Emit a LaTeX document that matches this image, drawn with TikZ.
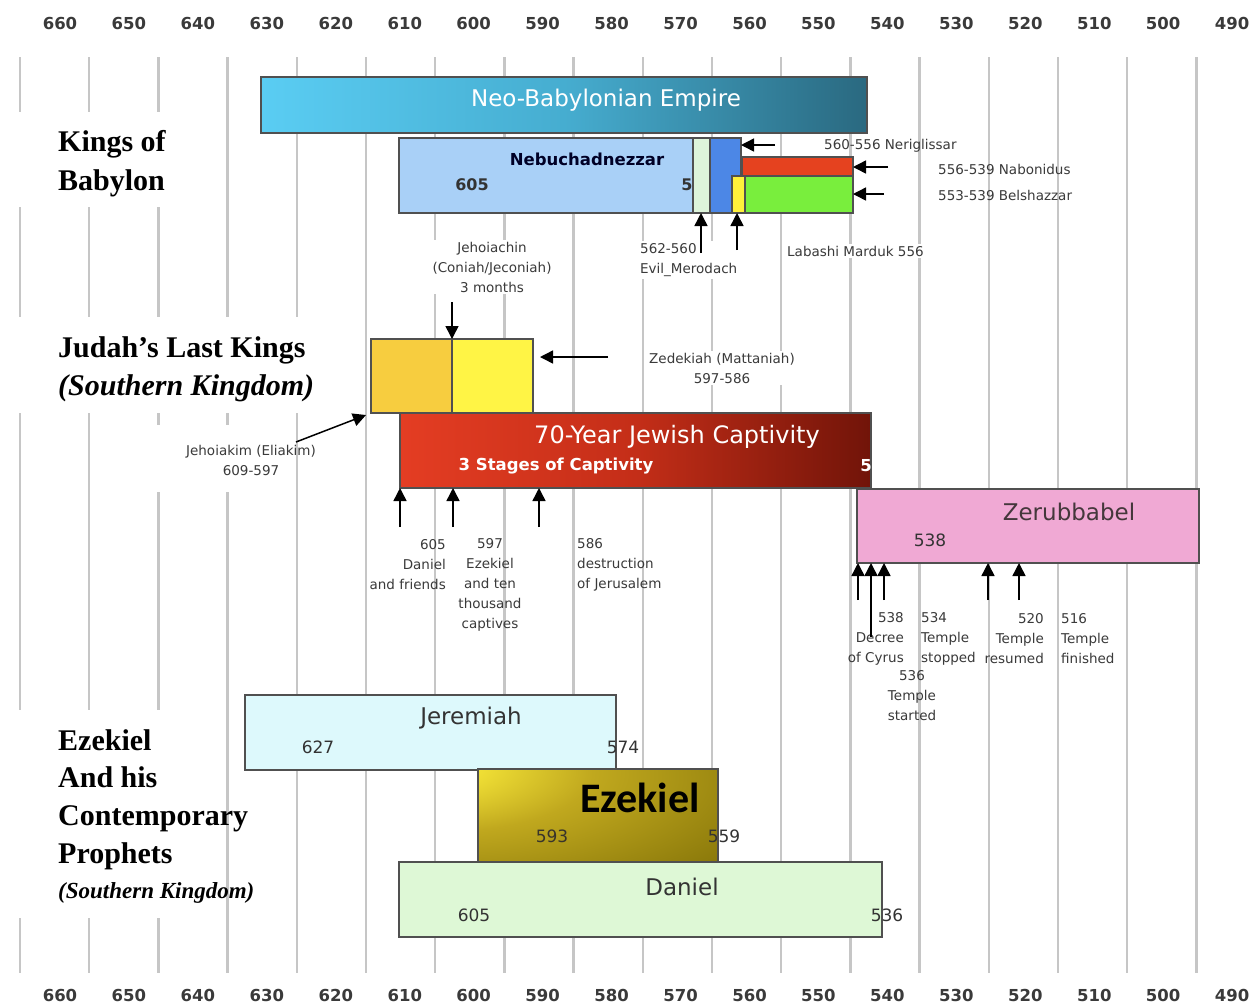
\documentclass[tikz,border=0pt]{standalone}
\usepackage{fontspec}
\setmainfont{DejaVu Sans}
\newfontfamily\rowserif{Liberation Serif}
\newfontfamily\calibri{Carlito}
\usetikzlibrary{arrows.meta}
\definecolor{gridgray}{HTML}{C6C6C6}
\definecolor{edge}{HTML}{505050}
\definecolor{notegray}{HTML}{3A3A3A}
\definecolor{neolight}{HTML}{5ACDF3}
\definecolor{neomid}{HTML}{46ADD0}
\definecolor{neodark}{HTML}{2A6980}
\definecolor{nebblue}{HTML}{A9D0F7}
\definecolor{evilgreen}{HTML}{DDF4DA}
\definecolor{neriblue}{HTML}{4C87E6}
\definecolor{nabored}{HTML}{E5421F}
\definecolor{labayellow}{HTML}{FFF03A}
\definecolor{belsgreen}{HTML}{79EE3D}
\definecolor{jhkorange}{HTML}{F7CD3F}
\definecolor{zedyellow}{HTML}{FFF445}
\definecolor{captred}{HTML}{E43D23}
\definecolor{captmid}{HTML}{C42E18}
\definecolor{captdark}{HTML}{711409}
\definecolor{zerpink}{HTML}{F0A9D4}
\definecolor{jercyan}{HTML}{DDF9FC}
\definecolor{ezlight}{HTML}{FFF03C}
\definecolor{ezmid}{HTML}{C0A81E}
\definecolor{ezdark}{HTML}{847308}
\definecolor{dangreen}{HTML}{DEF8D6}
\pgfdeclareradialshading{ezglow}{\pgfpoint{-42bp}{30bp}}{color(0bp)=(ezlight); color(8bp)=(ezlight); color(32bp)=(ezmid); color(68bp)=(ezdark); color(150bp)=(ezdark)}
\tikzset{gridline/.style={gridgray, line width=2.4pt},
         yearlab/.style={font=\fontsize{16.5}{18}\selectfont\bfseries, text=notegray},
         rowlab/.style={font=\fontsize{30}{36}\selectfont\rowserif\bfseries, anchor=base west, inner sep=0pt},
         rowlabit/.style={rowlab, font=\fontsize{30}{36}\selectfont\rowserif\bfseries\itshape},
         bar/.style={draw=edge, line width=1.2pt, anchor=north west, inner sep=0pt, outer sep=0pt},
         barname/.style={font=\fontsize{23}{26}\selectfont, text=black!80},
         baryear/.style={font=\fontsize{17}{20}\selectfont, text=black!80},
         note/.style={font=\fontsize{13.5}{20}\selectfont, text=notegray, inner sep=2pt},
         pointer/.style={-{Triangle[length=13pt,width=13pt]}, line width=1.5pt}}

\begin{document}
\begin{tikzpicture}[x=1pt, y=-1pt]
    \fill[white] (0,0) rectangle (1260,1005);
    \useasboundingbox (0,0) rectangle (1260,1005);

    \foreach \i in {0,...,17}
      \draw[gridline] (20+69.2*\i,57) -- (20+69.2*\i,973);
    \fill[white] (8,112) rectangle (178,207);
    \fill[white] (8,317) rectangle (322,413);
    \fill[white] (8,710) rectangle (178,918);
    \fill[white] (145,425) rectangle (240,492);

    \foreach \yr [count=\i from 0] in {660,650,...,490} {
      \node[yearlab] (top-\yr) at (60+68.95*\i,23) {\yr};
      \node[yearlab] (bot-\yr) at (60+68.95*\i,995) {\yr};
    }

    \node[rowlab] (kings-1) at (58,151) {Kings of};
    \node[rowlab] (kings-2) at (58,190) {Babylon};
    \node[rowlab] (judah-1) at (58,357) {Judah’s Last Kings};
    \node[rowlabit] (judah-2) at (58,395) {(Southern Kingdom)};
    \node[rowlab] (proph-1) at (58,750) {Ezekiel};
    \node[rowlab] (proph-2) at (58,787) {And his};
    \node[rowlab] (proph-3) at (58,825) {Contemporary};
    \node[rowlab] (proph-4) at (58,863) {Prophets};
    \node[rowlabit, font=\fontsize{23}{26}\selectfont\rowserif\bfseries\itshape] (proph-5) at (58,898) {(Southern Kingdom)};

    \node[note, fill=white, align=center] (jhn-lab) at (492,267) {Jehoiachin\\(Coniah/Jeconiah)\\3 months};
    \node[note, fill=white, align=left, anchor=west] (evil-lab) at (638,260) {562-560\\Evil\_Merodach};
    \node[note, fill=white, anchor=west] (laba-lab) at (785,251) {Labashi Marduk 556};
    \node[note, anchor=west] (neri-lab) at (822,146) {560-556 Neriglissar};
    \node[note, anchor=west] (nabo-lab) at (936,169) {556-539 Nabonidus};
    \node[note, anchor=west] (bels-lab) at (936,195) {553-539 Belshazzar};
    \node[note, fill=white, align=center] (zed-lab) at (722,368) {Zedekiah (Mattaniah)\\597-586};
    \node[note, align=center] (jhk-lab) at (251,460) {Jehoiakim (Eliakim)\\609-597};
    \node[note, align=right, anchor=east] (capt1-lab) at (448,565) {605\\Daniel\\and friends};
    \node[note, align=center] (capt2-lab) at (490,585) {597\\Ezekiel\\and ten\\thousand\\captives};
    \node[note, align=left, anchor=west] (capt3-lab) at (575,565) {586\\destruction\\of Jerusalem};
    \node[note, align=right, anchor=east] (cyrus-lab) at (906,639) {538\\Decree\\of Cyrus};
    \node[note, align=center] (start-lab) at (912,696) {536\\Temple\\started};
    \node[note, align=left, anchor=west] (stop-lab) at (919,639) {534\\Temple\\stopped};
    \node[note, align=right, anchor=east] (resume-lab) at (1046,639) {520\\Temple\\resumed};
    \node[note, align=left, anchor=west] (finish-lab) at (1059,639) {516\\Temple\\finished};

    \node[bar, left color=neolight, right color=neodark, middle color=neomid, minimum width=606, minimum height=56] (neo) at (261,77) {};
    \node[bar, fill=nebblue, minimum width=294, minimum height=75] (neb) at (399,138) {};
    \node[bar, fill=evilgreen, minimum width=17, minimum height=75] (evil) at (693,138) {};
    \node[bar, fill=neriblue, minimum width=31, minimum height=75] (neri) at (710,138) {};
    \node[bar, fill=nabored, minimum width=111, minimum height=19] (nabo) at (742,157) {};
    \node[bar, fill=labayellow, minimum width=13, minimum height=37] (laba) at (732,176) {};
    \node[bar, fill=belsgreen, minimum width=108, minimum height=37] (bels) at (745,176) {};
    \node[bar, fill=jhkorange, minimum width=81, minimum height=74] (jhk) at (371,339) {};
    \node[bar, fill=zedyellow, minimum width=81, minimum height=74] (zed) at (452,339) {};
    \node[bar, left color=captred, right color=captdark, middle color=captmid, minimum width=471, minimum height=75] (capt) at (400,413) {};
    \node[bar, fill=zerpink, minimum width=342, minimum height=74] (zer) at (857,489) {};
    \node[bar, fill=jercyan, minimum width=371, minimum height=75] (jer) at (245,695) {};
    \node[bar, shade, shading=ezglow, minimum width=240, minimum height=94] (ezk) at (478,769) {};
    \node[bar, fill=dangreen, minimum width=483, minimum height=75] (dan) at (399,862) {};

    \node[barname, text=white] (neo-name) at (606,100) {Neo-Babylonian Empire};
    \node[baryear, font=\fontsize{16.5}{20}\selectfont\bfseries, text=black!85!blue] (neb-name) at (587,159) {Nebuchadnezzar};
    \node[baryear, font=\fontsize{16}{20}\selectfont\bfseries] (neb-from) at (472,185) {605};
    \node[baryear, font=\fontsize{16}{20}\selectfont\bfseries] (neb-to) at (687,185) {5};
    \node[barname, font=\fontsize{24}{26}\selectfont, text=white] (capt-name) at (677,437) {70-Year Jewish Captivity};
    \node[baryear, font=\fontsize{16.5}{20}\selectfont\bfseries, text=white] (capt-sub) at (556,466) {3 Stages of Captivity};
    \node[baryear, font=\fontsize{16.5}{20}\selectfont\bfseries, text=white] (capt-to) at (866,466) {5};
    \node[barname, text=black!75!magenta!60!black] (zer-name) at (1069,512) {Zerubbabel};
    \node[baryear] (zer-from) at (930,540) {538};
    \node[barname] (jer-name) at (471,718) {Jeremiah};
    \node[baryear] (jer-from) at (318,747) {627};
    \node[baryear] (jer-to) at (623,747) {574};
    \node[font=\fontsize{42}{44}\selectfont\calibri\bfseries] (ezk-name) at (640,798) {Ezekiel};
    \node[baryear, text=black!80!olive] (ezk-from) at (552,836) {593};
    \node[baryear] (ezk-to) at (724,836) {559};
    \node[barname] (dan-name) at (682,887) {Daniel};
    \node[baryear] (dan-from) at (474,915) {605};
    \node[baryear] (dan-to) at (887,915) {536};

    \coordinate (neri-tail) at (775,145);
    \coordinate (nabo-tail) at (888,167);
    \coordinate (bels-tail) at (884,194);
    \coordinate (evil-tail) at (701,253);
    \coordinate (laba-tail) at (737,250);
    \coordinate (jhn-tail) at (452,302);
    \coordinate (zed-tail) at (608,357);
    \coordinate (jhk-tail) at (296,442);
    \draw[pointer] (neri-tail) -- (neri-tail -| neri.east);
    \draw[pointer] (nabo-tail) -- (nabo-tail -| nabo.east);
    \draw[pointer] (bels-tail) -- (bels-tail -| bels.east);
    \draw[pointer] (evil-tail) -- (evil-tail |- evil.south);
    \draw[pointer] (laba-tail) -- (laba-tail |- laba.south);
    \draw[pointer] (jhn-tail) -- (jhn-tail |- zed.north);
    \draw[pointer, shorten >=7pt] (zed-tail) -- (zed-tail -| zed.east);
    \draw[pointer] (jhk-tail) -- ([xshift=-5pt, yshift=-2pt]jhk.south west);
    \foreach \xx [count=\k] in {400,453,539} {
      \coordinate (capt-tail-\k) at (\xx,527);
      \draw[pointer] (capt-tail-\k) -- (capt-tail-\k |- capt.south);
    }
    \foreach \xx/\yy [count=\k] in {858/600,871/637,884/600,988/600,1019/600} {
      \coordinate (zer-tail-\k) at (\xx,\yy);
      \draw[pointer] (zer-tail-\k) -- (zer-tail-\k |- zer.south);
    }
\end{tikzpicture}
\end{document}
